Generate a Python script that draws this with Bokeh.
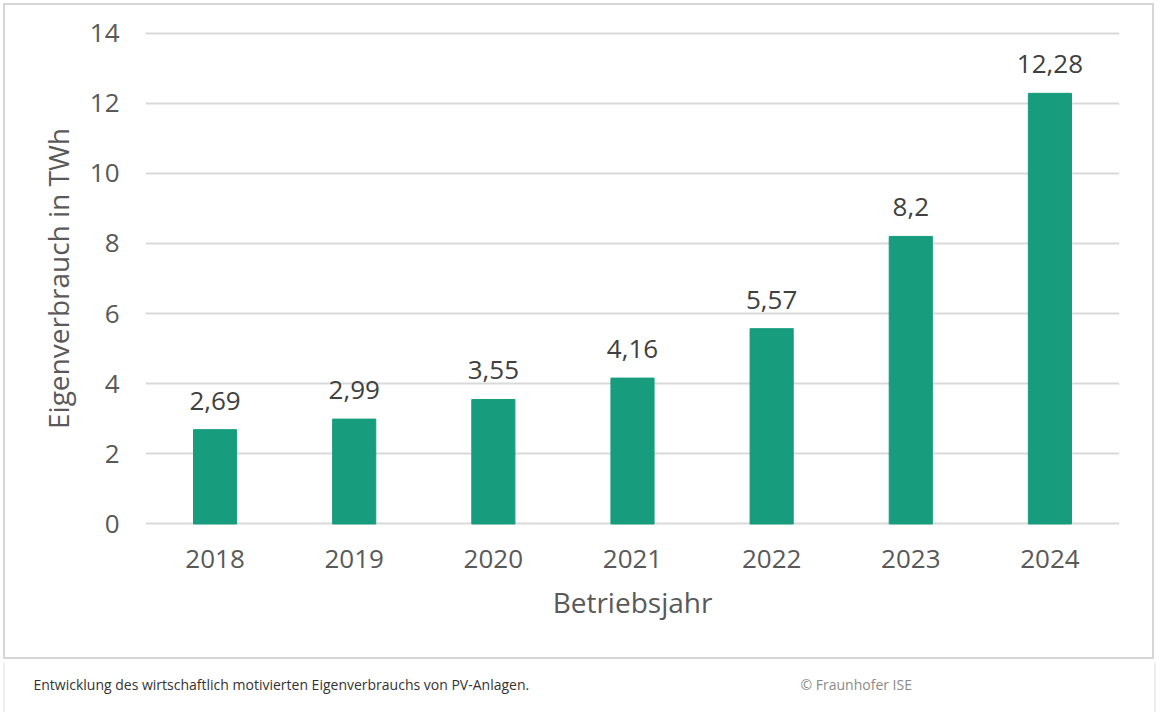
from bokeh.plotting import figure
from bokeh.layouts import column
from bokeh.models import (FactorRange, Range1d, FixedTicker, ColumnDataSource,
                          LabelSet)
from bokeh.core.properties import value
from bokeh.embed import file_html
from bokeh.resources import INLINE

years = ["2018", "2019", "2020", "2021", "2022", "2023", "2024"]
values = [2.69, 2.99, 3.55, 4.16, 5.57, 8.2, 12.28]
value_labels = [str(v).replace(".", ",") for v in values]
y_ticks = [0, 2, 4, 6, 8, 10, 12, 14]
y_title = "Eigenverbrauch in TWh"
x_title = "Betriebsjahr"
caption = "Entwicklung des wirtschaftlich motivierten Eigenverbrauchs von PV-Anlagen."
credit = "© Fraunhofer ISE"

FONT = "Open Sans"
BAR = "#179c7d"
GRID = "#d9d9d9"
BOX = "#d6d6d6"

W, HA, HB = 1157, 662, 50

# ---- chart ----
p = figure(width=W, height=HA, output_backend="svg", toolbar_location=None,
           x_range=FactorRange(factors=years, range_padding=0),
           y_range=Range1d(-0.3, 14.3),
           min_border_left=145, min_border_right=38,
           min_border_top=22, min_border_bottom=HA - 534)
p.outline_line_color = None
p.background_fill_color = "white"
p.border_fill_color = None
p.styles = {"background-color": "white",
            "box-shadow": (f"inset 0 0 0 3px white, inset 0 0 0 5px {BOX}, "
                           f"inset 0 2px 0 0 {BOX}")}

src = ColumnDataSource(dict(x=years, top=values, lab=value_labels))
p.vbar(x="x", top="top", bottom=0, width=0.31, source=src,
       fill_color=BAR, line_color=BAR)

p.add_layout(LabelSet(x="x", y="top", text="lab", source=src,
                      text_align="center", text_baseline="alphabetic",
                      y_offset=20, text_font=value(FONT), text_font_size="26px",
                      text_color="#404040"))

p.xgrid.grid_line_color = None
p.ygrid.grid_line_color = GRID
p.ygrid.grid_line_width = 2
p.yaxis.ticker = FixedTicker(ticks=y_ticks)

for ax in (p.xaxis[0], p.yaxis[0]):
    ax.axis_line_color = None
    ax.major_tick_line_color = None
    ax.minor_tick_line_color = None
    ax.major_label_text_font = FONT
    ax.major_label_text_font_size = "26px"
    ax.major_label_text_color = "#595959"
    ax.axis_label_text_font = FONT
    ax.axis_label_text_font_size = "28px"
    ax.axis_label_text_font_style = "normal"
    ax.axis_label_text_color = "#595959"

p.yaxis.axis_label = y_title
p.yaxis.major_label_standoff = 20
p.yaxis.axis_label_standoff = 10
p.xaxis.axis_label = x_title
p.xaxis.major_label_standoff = 9
p.xaxis.axis_label_standoff = 12

# ---- caption strip ----
c = figure(width=W, height=HB, output_backend="svg", toolbar_location=None,
           x_axis_type=None, y_axis_type=None,
           x_range=Range1d(0, W), y_range=Range1d(HB, 0),
           min_border=0, min_border_left=0, min_border_right=0,
           min_border_top=0, min_border_bottom=0)
try:
    c.frame_align = False
except AttributeError:
    pass
c.outline_line_color = None
c.grid.visible = False
c.background_fill_color = "white"
c.border_fill_color = "white"
c.segment(x0=[3.5, 1154.5], y0=[0, 0], x1=[3.5, 1154.5], y1=[HB, HB],
          line_color="#dcdcdc", line_width=1)
c.text(x=[33], y=[22], text=[caption], text_font=value(FONT),
       text_font_size="14px", text_color="#333333", text_baseline="middle")
c.text(x=[800], y=[22], text=[credit], text_font=value(FONT),
       text_font_size="14px", text_color="#8a8a8a", text_baseline="middle")

layout = column(p, c, spacing=0)
open("out.html", "w").write(file_html(layout, INLINE))
